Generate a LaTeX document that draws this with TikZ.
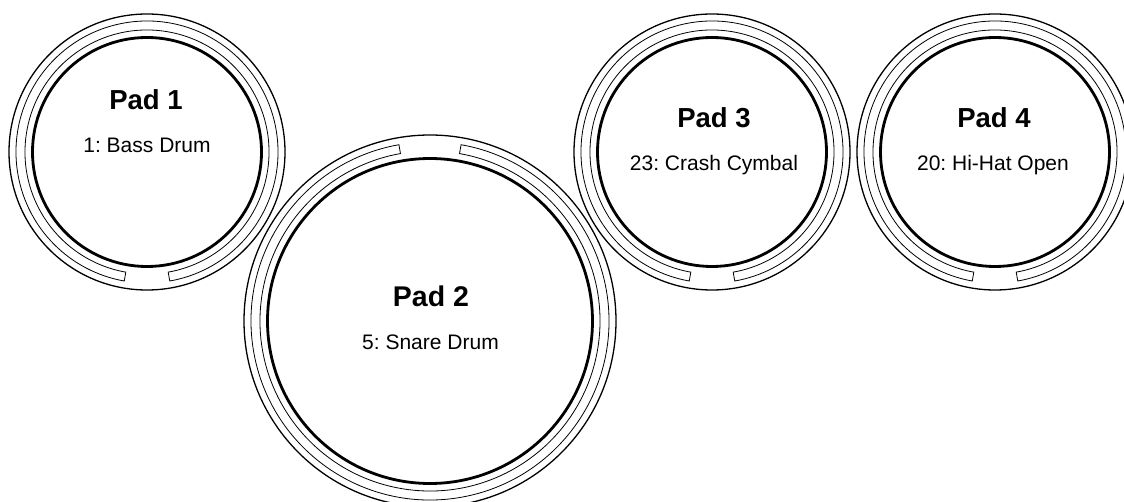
\documentclass[tikz,border=0pt]{standalone}
\usepackage{fontspec}
\setmainfont{Liberation Sans}
\frenchspacing
\tikzset{
  rim/.style={line width=1.3pt},
  slotband/.style={line width=0.8pt},
  head/.style={line width=2.8pt},
  padtitle/.style={font=\fontsize{27.5}{30}\selectfont\bfseries, anchor=base, inner sep=0pt},
  padsub/.style={font=\fontsize{21}{24}\selectfont\frenchspacing, anchor=base, inner sep=0pt},
}
% #1 centre, #2 outer radius, #3 direction of the gap in the slot band
\newcommand\padring[3]{%
  \pgfmathsetmacro\ra{#2-7}%
  \pgfmathsetmacro\rb{#2-16}%
  \pgfmathsetmacro\rh{#2-23.5}%
  \pgfmathsetmacro\sa{#3+10}%
  \pgfmathsetmacro\ea{#3+350}%
  \draw[rim] (#1) circle[radius=#2];
  \draw[slotband] (#1) ++(\sa:\ra) arc[start angle=\sa, end angle=\ea, radius=\ra]
     -- ++(\ea:-9) arc[start angle=\ea, end angle=\sa, radius=\rb] -- cycle;
  \draw[head] (#1) circle[radius=\rh];
}
\begin{document}
\begin{tikzpicture}[x=1pt,y=1pt]
  \useasboundingbox (0,0) rectangle (1124,501);
  \clip (0,0) rectangle (1124,501);
  \fill[white] (0,0) rectangle (1124,501);
  \coordinate (p1c) at (147,349);
  \coordinate (p2c) at (430,180);
  \coordinate (p3c) at (712,349);
  \coordinate (p4c) at (995,349);

  \padring{p1c}{138}{-90}
  \padring{p2c}{186}{90}
  \padring{p3c}{138}{-90}
  \padring{p4c}{138}{-90}

  \node[padtitle] (t1) at (146,391) {Pad 1};
  \node[padsub]   (s1) at (147,348) {1: Bass Drum};
  \node[padtitle, font=\fontsize{28.5}{31}\selectfont\bfseries] (t2) at (431,194) {Pad 2};
  \node[padsub]   (s2) at (430.5,151) {5: Snare Drum};
  \node[padtitle] (t3) at (714,373) {Pad 3};
  \node[padsub]   (s3) at (714,330) {23: Crash Cymbal};
  \node[padtitle] (t4) at (994,373) {Pad 4};
  \node[padsub]   (s4) at (993,330) {20: Hi-Hat Open};
\end{tikzpicture}
\end{document}
